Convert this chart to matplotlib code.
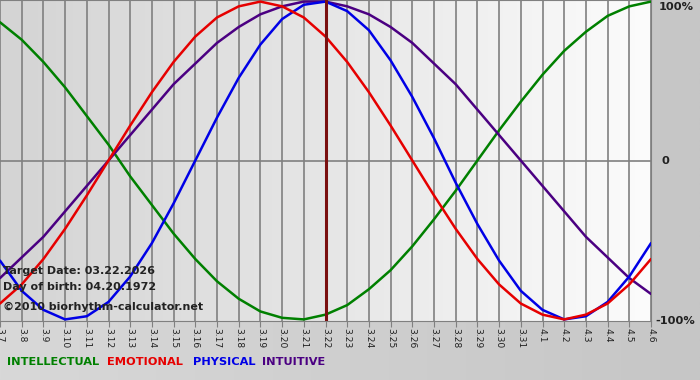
import matplotlib
matplotlib.use("Agg")
import matplotlib.pyplot as plt
import numpy as np
from matplotlib.colors import LinearSegmentedColormap

# Dates shown on x axis
days = ["3.7", "3.8", "3.9", "3.10", "3.11", "3.12", "3.13", "3.14", "3.15", "3.16",
        "3.17", "3.18", "3.19", "3.20", "3.21", "3.22", "3.23", "3.24", "3.25", "3.26",
        "3.27", "3.28", "3.29", "3.30", "3.31", "4.1", "4.2", "4.3", "4.4", "4.5", "4.6"]

physical = [-0.63, -0.82, -0.94, -1.00, -0.98, -0.89, -0.73, -0.52, -0.27, 0.00,
            0.27, 0.52, 0.73, 0.89, 0.98, 1.00, 0.94, 0.82, 0.63, 0.40,
            0.14, -0.14, -0.40, -0.63, -0.82, -0.94, -1.00, -0.98, -0.89, -0.73, -0.52]

emotional = [-0.90, -0.78, -0.62, -0.43, -0.22, 0.00, 0.22, 0.43, 0.62, 0.78,
             0.90, 0.97, 1.00, 0.97, 0.90, 0.78, 0.62, 0.43, 0.22, 0.00,
             -0.22, -0.43, -0.62, -0.78, -0.90, -0.97, -1.00, -0.97, -0.90, -0.78, -0.62]

intellectual = [0.87, 0.76, 0.62, 0.46, 0.28, 0.10, -0.10, -0.28, -0.46, -0.62,
                -0.76, -0.87, -0.95, -0.99, -1.00, -0.97, -0.91, -0.81, -0.69, -0.54,
                -0.37, -0.19, 0.00, 0.19, 0.37, 0.54, 0.69, 0.81, 0.91, 0.97, 1.00]

intuitive = [-0.74, -0.61, -0.48, -0.32, -0.16, 0.00, 0.16, 0.32, 0.48, 0.61,
             0.74, 0.84, 0.92, 0.97, 1.00, 1.00, 0.97, 0.92, 0.84, 0.74,
             0.61, 0.48, 0.32, 0.16, 0.00, -0.16, -0.32, -0.48, -0.61, -0.74, -0.84]

target_label = "3.22"
info_lines = ["Target Date: 03.22.2026", "Day of birth: 04.20.1972", "\u00a92010 biorhythm-calculator.net"]
legend_names = ["INTELLECTUAL", "EMOTIONAL", "PHYSICAL", "INTUITIVE"]
ylabel_vals = [1.0, 0.0, -1.0]
ylabel_text = ["100%", "0", "-100%"]

W, H = 700, 380
fig = plt.figure(figsize=(W / 100, H / 100), dpi=100)
fig.patch.set_facecolor("#c4c4c4")

grad = np.linspace(0, 1, 256)[None, :]
bg = fig.add_axes([0, 0, 1, 1], zorder=-10)
cm_bottom = LinearSegmentedColormap.from_list("b", ["#d8d8d8", "#c6c6c6"])
bg.imshow(grad, aspect="auto", cmap=cm_bottom, extent=[0, 1, 0, 1])
bg.set_axis_off()

left, right_px, top_px, bot_px = 0, 651, 0, 321
ax = fig.add_axes([left / W, 1 - bot_px / H, (right_px - left) / W, (bot_px - top_px) / H])
x = np.arange(len(days))
ax.set_xlim(0, len(days) - 1)
ax.set_ylim(-1.01, 1.01)

cm_plot = LinearSegmentedColormap.from_list("p", ["#d4d4d4", "#e6e6e6", "#fcfcfc"])
ax.imshow(grad, aspect="auto", cmap=cm_plot, extent=[0, len(days) - 1, -1.01, 1.01], zorder=0)

for xi in x:
    ax.axvline(xi, color="#808080", lw=1.2, zorder=1)
ax.axhline(0, color="#808080", lw=1.2, zorder=1)

lw = 1.8
kw = dict(lw=lw, solid_joinstyle="round", solid_capstyle="round")
ax.plot(x, intellectual, color="#008000", zorder=3, **kw)
ax.plot(x, intuitive, color="#4b0082", zorder=3, **kw)
ax.plot(x, physical, color="#0000e6", zorder=3, **kw)
ax.plot(x, emotional, color="#e60000", zorder=4, **kw)

ax.axvline(days.index(target_label), color="#7a1010", lw=2.2, zorder=5)

ax.spines["left"].set_visible(False)
for s in ["top", "bottom", "right"]:
    ax.spines[s].set_color("#808080")

ax.set_xticks(x)
ax.set_xticklabels(days, rotation=270, fontsize=6.6, color="#202020")
ax.tick_params(axis="x", length=4, color="#808080", pad=1)
ax.set_yticks([])

label_px = [7, 161, 321]
label_x = [659, 661, 655]
for lab, ypx, xpx in zip(ylabel_text, label_px, label_x):
    fig.text(xpx / W, 1 - ypx / H, lab, fontsize=8.2, fontweight="bold",
             color="#202020", ha="left", va="center")

for line, ypx in zip(info_lines, [271, 287, 307]):
    fig.text(3 / W, 1 - ypx / H, line, fontsize=8.0, fontweight="bold", color="#222222",
             ha="left", va="center", zorder=10)

leg_colors = ["#008000", "#e60000", "#0000e6", "#4b0082"]
leg_x = [7, 107, 193, 262]
for name, c, lx in zip(legend_names, leg_colors, leg_x):
    fig.text(lx / W, 1 - 362 / H, name, fontsize=8.2, fontweight="bold", color=c,
             ha="left", va="center")

fig.savefig("out.png", dpi=100)
